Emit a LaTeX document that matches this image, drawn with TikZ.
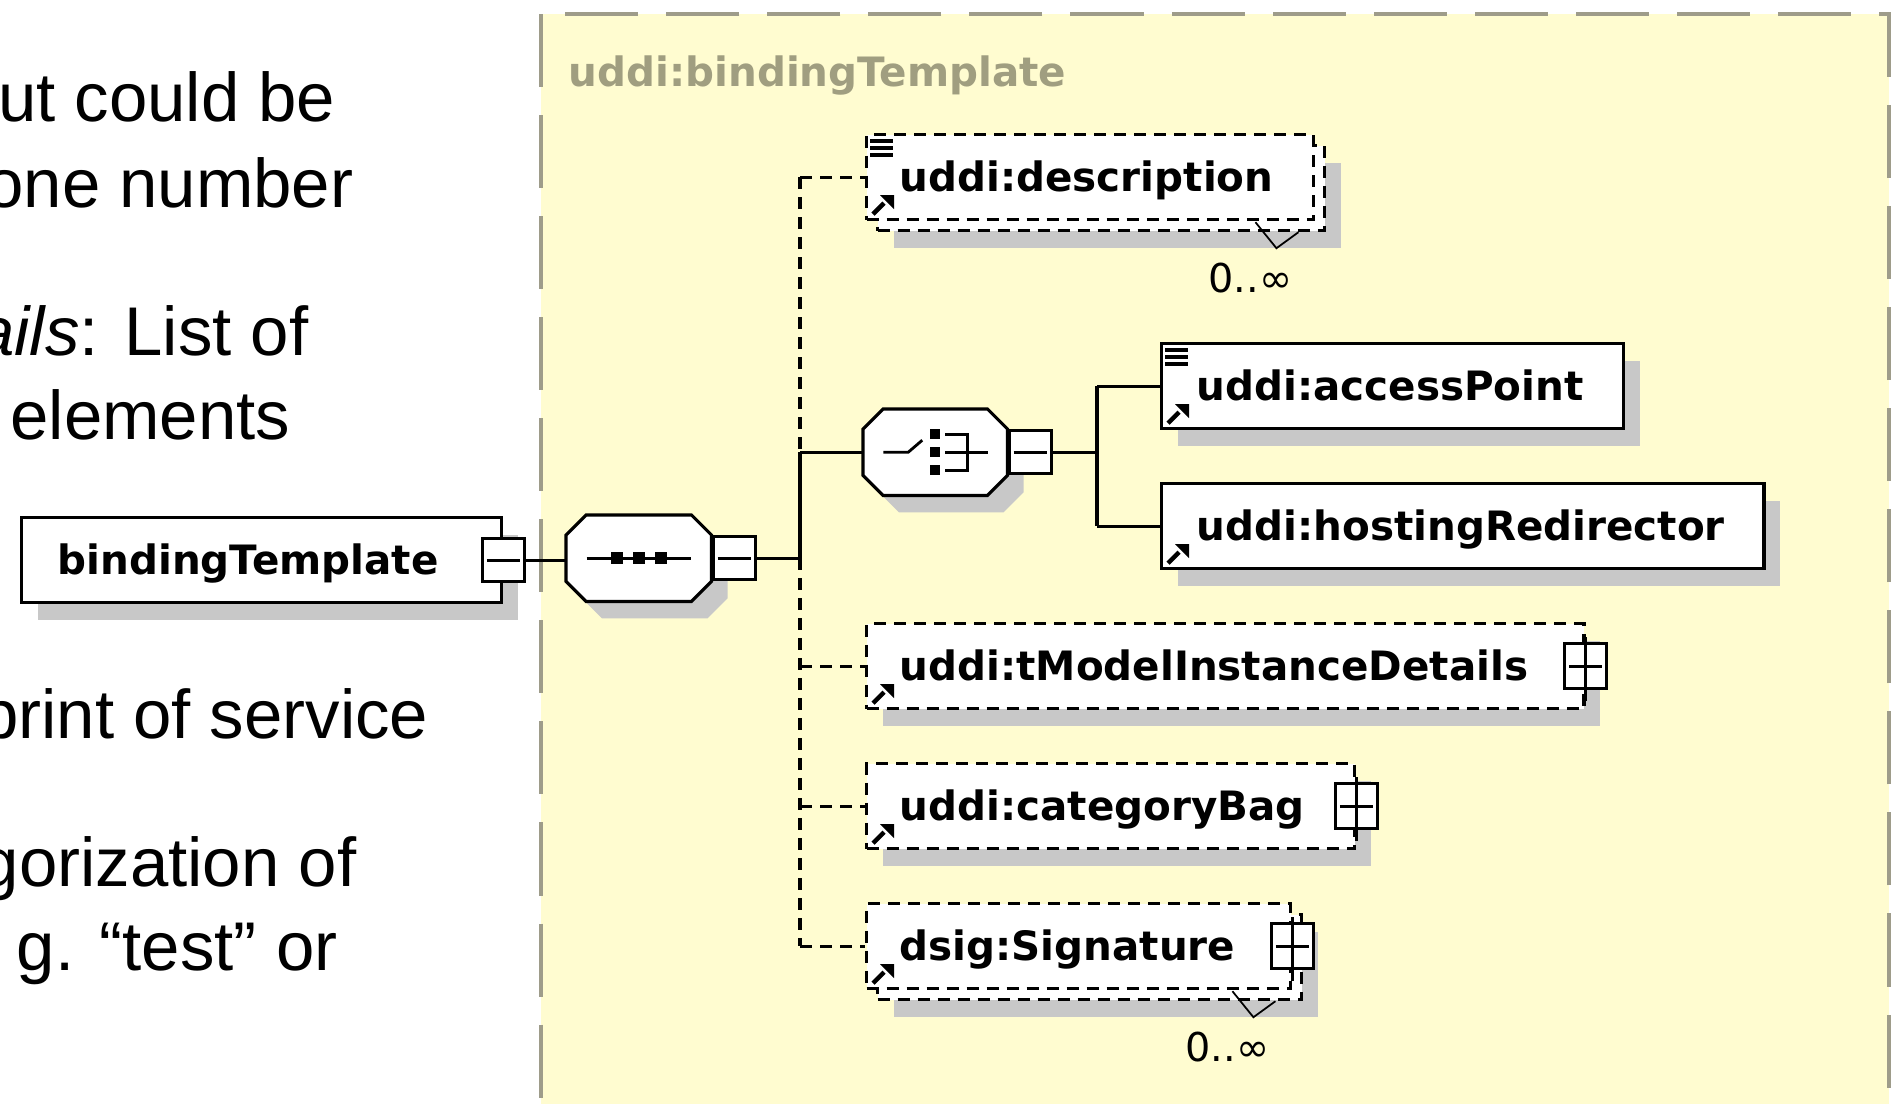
\documentclass[tikz,border=0pt]{standalone}
\usepackage{fontspec}
\setmainfont{Liberation Sans}
\newfontfamily\xsfont{DejaVu Sans}
\usetikzlibrary{shapes}
\usetikzlibrary{positioning}
\usetikzlibrary{shadows}

\definecolor{panelfill}{RGB}{255,252,208}
\definecolor{panelline}{RGB}{158,156,138}
\definecolor{titlegray}{RGB}{160,158,128}
\definecolor{shgray}{RGB}{200,200,200}

\tikzset{
  txt/.style={font=\fontsize{19.6}{23}\selectfont, inner sep=0, anchor=base east},
  ttl/.style={font=\xsfont\bfseries\fontsize{11.5}{13}\selectfont, text=titlegray, inner sep=0, anchor=base west},
  lbl/.style={font=\xsfont\bfseries\fontsize{11.5}{13}\selectfont, inner sep=0, text height=.36cm, text depth=.08cm},
  card/.style={font=\xsfont\fontsize{11.3}{13}\selectfont, inner sep=0},
  elembox/.style={draw, fill=white, line width=.9pt, minimum height=.85cm, inner sep=0, anchor=north west},
  optbox/.style={elembox, dash pattern=on .12cm off .08cm},
  dropsh/.style={drop shadow={shadow xshift=.16cm, shadow yshift=-.17cm, fill=shgray, opacity=1}},
  octbox/.style={minimum height=.85cm, inner sep=0, anchor=north west},
  smallbox/.style={draw, fill=white, line width=.9pt, minimum width=.42cm, minimum height=.43cm, inner sep=0},
  conn/.style={line width=.9pt},
  optconn/.style={conn, dash pattern=on .12cm off .08cm},
  symline/.style={line width=.8pt}
}

% little marks inside the boxes
\newcommand{\docmark}[1]{%
  \foreach \dy in {8,15,22}
    \draw[line width=1pt] ([shift={(5,\dy)}]#1.north west) -- ++(23,0);}
\newcommand{\refmark}[1]{%
  \draw[line width=1.3pt] ([shift={(8,-7)}]#1.south west) -- ++(11,-11);
  \fill ([shift={(29,-26)}]#1.south west) -- ++(-14,0) -- ++(14,14) -- cycle;}
\newcommand{\minusmark}[1]{%
  \draw[symline] ([xshift=.06cm]#1.west) -- ([xshift=-.06cm]#1.east);}
\newcommand{\plusmark}[1]{%
  \minusmark{#1}
  \draw[symline] ([yshift=.05cm]#1.north) -- ([yshift=-.11cm]#1.south);}
\newcommand{\multmark}[1]{%
  \draw[line width=.5pt] ([shift={(-71,-10)}]#1.south east) -- ([shift={(-50,16)}]#1.south east) -- ([shift={(-28,0)}]#1.south east);}
% octagon round a node, moved by (#2,#3)
\newcommand{\octpath}[3]{([shift={(20+#2,#3)}]#1.north west) -- ([shift={(-20+#2,#3)}]#1.north east)
  -- ([shift={(#2,20+#3)}]#1.north east) -- ([shift={(#2,-20+#3)}]#1.south east)
  -- ([shift={(-20+#2,#3)}]#1.south east) -- ([shift={(20+#2,#3)}]#1.south west)
  -- ([shift={(#2,-20+#3)}]#1.south west) -- ([shift={(#2,20+#3)}]#1.north west) -- cycle}

\begin{document}
\begin{tikzpicture}[x=0.01cm,y=-0.01cm]
\useasboundingbox (0,0) rectangle (1894,1103);

% text on the left
\node[txt] (a) at (336,121) {ut could be};
\node[txt] (aa) at (354,207) {one number};
\node[txt] (b) at (309,355) {{\itshape ails}: List of};
\node[txt] (bb) at (291,439) {elements};
\node[txt] (c) at (429,738) {print of service};
\node[txt] (d) at (357,886) {gorization of};
\node[txt] (dd) at (338,970) {g. “test” or};

% panel
\draw[panelline, line width=.9pt, dash pattern=on .73cm off .28cm, fill=panelfill] (541,14) rectangle (1889,1140);
\node[ttl] (ttl) at (568,86) {uddi:bindingTemplate};

% element boxes
\node[elembox, dropsh, minimum width=4.80cm] (bt) at (20,516) {};
\node[lbl, right=.37cm of bt.west] (btt) {bindingTemplate};
\node[smallbox] (btm) at (bt.east) {};
\minusmark{btm}

\node[octbox, minimum width=1.44cm] (seq) at (566,515) {};
\fill[shgray] \octpath{seq}{16}{17};
\draw[line width=.9pt, fill=white] \octpath{seq}{0}{0};
\node[smallbox, anchor=west] (seqm) at (seq.east) {};
\minusmark{seqm}

\node[octbox, minimum width=1.43cm] (ch) at (863,409) {};
\fill[shgray] \octpath{ch}{16}{17};
\draw[line width=.9pt, fill=white] \octpath{ch}{0}{0};
\node[smallbox, anchor=west] (chm) at (ch.east) {};
\minusmark{chm}

\node[optbox, dropsh, minimum width=4.47cm] (descb) at (876,144) {};
\node[optbox, minimum width=4.47cm] (desc) at (865,133) {};
\node[lbl, right=.34cm of desc.west] (desct) {uddi:description};
\docmark{desc}
\refmark{desc}
\multmark{descb}
\node[card] (descc) at ([shift={(-76,46)}]descb.south east) {0..∞};

\node[elembox, dropsh, minimum width=4.62cm] (ap) at (1160,342) {};
\node[lbl, right=.36cm of ap.west] (apt) {uddi:accessPoint};
\docmark{ap}
\refmark{ap}

\node[elembox, dropsh, minimum width=6.02cm] (hr) at (1160,482) {};
\node[lbl, right=.36cm of hr.west] (hrt) {uddi:hostingRedirector};
\refmark{hr}

\node[optbox, dropsh, minimum width=7.17cm] (tm) at (865,622) {};
\node[lbl, right=.34cm of tm.west] (tmt) {uddi:tModelInstanceDetails};
\refmark{tm}
\node[smallbox, minimum height=.45cm] (tmp) at (tm.east) {};
\plusmark{tmp}

\node[optbox, dropsh, minimum width=4.88cm] (cb) at (865,762) {};
\node[lbl, right=.34cm of cb.west] (cbt) {uddi:categoryBag};
\refmark{cb}
\node[smallbox, minimum height=.45cm] (cbp) at (cb.east) {};
\plusmark{cbp}

\node[optbox, dropsh, minimum width=4.24cm] (sigb) at (876,913) {};
\node[optbox, minimum width=4.24cm] (sig) at (865,902) {};
\node[lbl, right=.34cm of sig.west] (sigt) {dsig:Signature};
\refmark{sig}
\node[smallbox, minimum height=.45cm] (sigp) at (sig.east) {};
\plusmark{sigp}
\multmark{sigb}
\node[card] (sigc) at ([shift={(-76,46)}]sigb.south east) {0..∞};

% sequence and choice marks
\draw[symline] ([xshift=-.52cm]seq.center) -- ([xshift=.52cm]seq.center);
\foreach \dx in {-22,0,22}
  \fill ([shift={(\dx-6,-6)}]seq.center) rectangle ++(12,12);
\draw[symline] ([shift={(-52,0)}]ch.center) -- ++(25,0) -- ++(14,-12);
\foreach \dy in {-18,0,18}
  \fill ([shift={(-5,\dy-5)}]ch.center) rectangle ++(10,10);
\draw[symline] ([shift={(10,-18)}]ch.center) -- ++(22,0) -- ++(0,36) -- ++(-22,0);
\draw[symline] ([shift={(10,0)}]ch.center) -- ++(43,0);

% connectors
\coordinate (sp) at (800,0);
\coordinate (sp2) at (1097,0);
\draw[conn] (btm.east) -- (btm.east -| seq.west);
\draw[conn] (seqm.east) -- (sp |- seqm.east);
\draw[optconn] (sp |- desc.west) -- (sp |- ch.west);
\draw[conn] (sp |- ch.west) -- (sp |- seqm.east);
\draw[optconn] (sp |- seqm.east) -- (sp |- sig.west);
\draw[optconn] (sp |- desc.west) -- (desc.west);
\draw[conn] (sp |- ch.west) -- (ch.west);
\draw[optconn] (sp |- tm.west) -- (tm.west);
\draw[optconn] (sp |- cb.west) -- (cb.west);
\draw[optconn] (sp |- sig.west) -- (sig.west);
\draw[conn] (chm.east) -- (sp2 |- chm.east);
\draw[conn] (sp2 |- ap.west) -- (sp2 |- hr.west);
\draw[conn] (sp2 |- ap.west) -- (ap.west);
\draw[conn] (sp2 |- hr.west) -- (hr.west);
\end{tikzpicture}
\end{document}
